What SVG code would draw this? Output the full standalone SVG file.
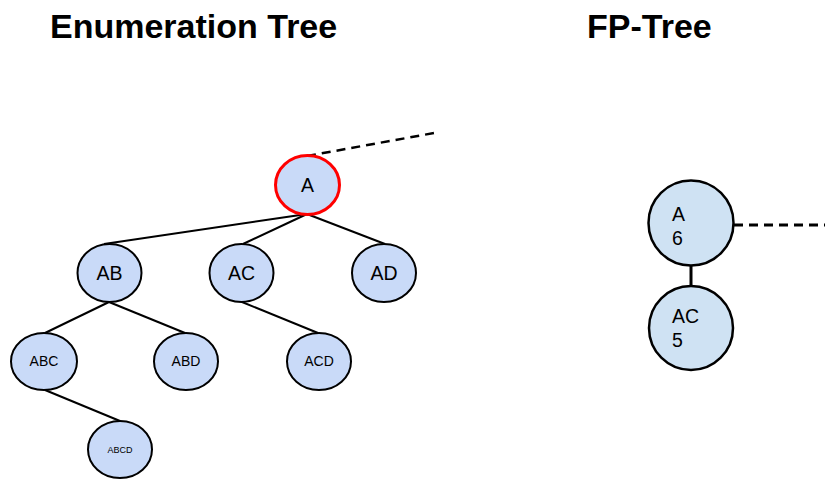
<svg xmlns="http://www.w3.org/2000/svg" width="825" height="479" viewBox="0 0 825 479">
<style>
.title{font-family:"Liberation Sans",Arial,sans-serif;font-weight:bold;font-size:34px;fill:#000}
.en ellipse{fill:#c9daf8;stroke:#000;stroke-width:2}
.fp circle{fill:#cfe2f3;stroke:#000;stroke-width:2.5}
.lbl{font-family:"Liberation Sans",Arial,sans-serif;fill:#000;text-anchor:middle}
.fpl{font-family:"Liberation Sans",Arial,sans-serif;fill:#000;font-size:19.5px}
.edge{stroke:#000;stroke-width:2;fill:none}
.dash{stroke:#000;stroke-width:2.5;fill:none;stroke-dasharray:9 6}
</style>
<rect width="825" height="479" fill="#fff"/>
<text class="title" x="50" y="38">Enumeration Tree</text>
<text class="title" x="587" y="38">FP-Tree</text>
<g id="connectors">
<line class="dash" x1="307" y1="156" x2="434" y2="133"/>
<line class="edge" x1="307" y1="214" x2="104" y2="244"/>
<line class="edge" x1="307" y1="214" x2="243" y2="244"/>
<line class="edge" x1="307" y1="214" x2="385" y2="244"/>
<line class="edge" x1="109" y1="302" x2="45" y2="333"/>
<line class="edge" x1="109" y1="302" x2="185" y2="333"/>
<line class="edge" x1="242" y1="302" x2="318" y2="333"/>
<line class="edge" x1="45" y1="390" x2="120" y2="421"/>
<line class="edge" x1="691" y1="265" x2="691" y2="286" style="stroke-width:3"/>
<line class="dash" x1="734" y1="225" x2="825" y2="225" style="stroke-width:3"/>
</g>
<g id="nA" class="en"><ellipse cx="307.5" cy="185" rx="32" ry="29.5" style="stroke:#f00;stroke-width:3"/><text class="lbl" x="307.5" y="192" font-size="19.5">A</text></g>
<g id="nAB" class="en"><ellipse cx="109.5" cy="273" rx="32" ry="29"/><text class="lbl" x="109.5" y="280" font-size="19.5">AB</text></g>
<g id="nAC" class="en"><ellipse cx="241.5" cy="273" rx="32" ry="29"/><text class="lbl" x="241.5" y="280" font-size="19.5">AC</text></g>
<g id="nAD" class="en"><ellipse cx="384" cy="273" rx="32" ry="29"/><text class="lbl" x="384" y="280" font-size="19.5">AD</text></g>
<g id="nABC" class="en"><ellipse cx="44" cy="361.5" rx="33" ry="28.5"/><text class="lbl" x="44" y="366" font-size="14">ABC</text></g>
<g id="nABD" class="en"><ellipse cx="186" cy="361.5" rx="32" ry="28.5"/><text class="lbl" x="186" y="366" font-size="14">ABD</text></g>
<g id="nACD" class="en"><ellipse cx="319" cy="361.5" rx="32" ry="28.5"/><text class="lbl" x="319" y="366" font-size="14">ACD</text></g>
<g id="nABCD" class="en"><ellipse cx="120" cy="449.5" rx="32" ry="28.5"/><text class="lbl" x="120" y="453" font-size="9">ABCD</text></g>
<g id="fpA" class="fp"><circle cx="691" cy="223" r="42.5"/><text class="fpl" x="672" y="221">A</text><text class="fpl" x="672" y="245">6</text></g>
<g id="fpAC" class="fp"><circle cx="691" cy="328" r="42"/><text class="fpl" x="672" y="323">AC</text><text class="fpl" x="672" y="347">5</text></g>
</svg>
